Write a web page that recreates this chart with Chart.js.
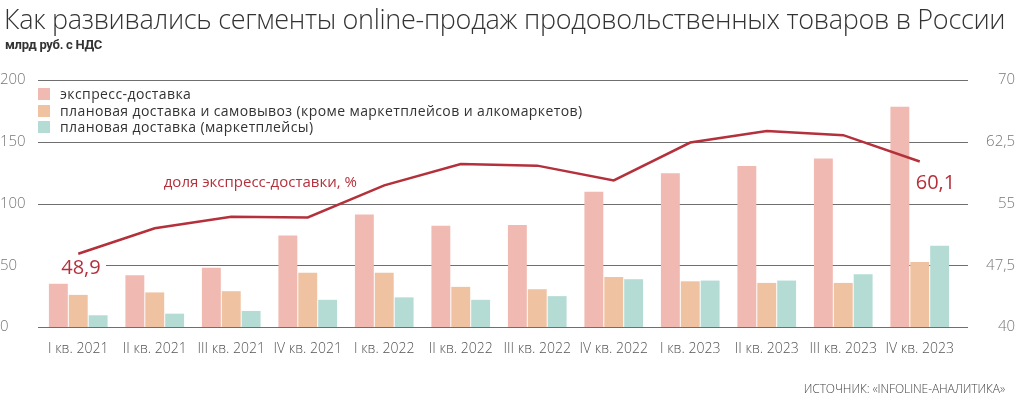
<!DOCTYPE html>
<html>
<head>
<meta charset="utf-8">
<script src="https://cdn.jsdelivr.net/npm/chart.js@4"></script>
<style>
  body { margin: 0; background: #fff; }
  #wrap { position: relative; width: 1015px; height: 397px; overflow: hidden; }
  #chart { position: absolute; left: 0; top: 0; }
  .title { position: absolute; left: 4px; top: 0px; font-family: "Open Sans"; font-weight: 300; font-size: 27px; color: #333; white-space: nowrap; letter-spacing: -0.3px; }
  .sub { position: absolute; left: 5px; top: 37px; font-family: Roboto; font-weight: 700; font-size: 13px; color: #333; letter-spacing: -0.3px; }
  .legend { position: absolute; left: 38px; top: 86px; font-family: "Open Sans"; font-size: 14px; color: #333; line-height: 16.5px; letter-spacing: 0.4px; }
  .legend div { white-space: nowrap; }
  .legend span { display: inline-block; width: 12px; height: 12px; margin-right: 10px; vertical-align: -1px; }
  .source { position: absolute; right: 10px; top: 380px; font-family: "Open Sans"; font-weight: 300; font-size: 12px; color: #444; letter-spacing: -0.1px; }
</style>
</head>
<body>
<div id="wrap">
  <canvas id="chart" width="1015" height="397"></canvas>
  <div class="title">Как развивались сегменты online-продаж продовольственных товаров в России</div>
  <div class="sub">млрд руб. с НДС</div>
  <div class="legend" id="legend"></div>
  <div class="source">ИСТОЧНИК: «INFOLINE-АНАЛИТИКА»</div>
</div>
<script>
// data
var quarters = ["I кв. 2021", "II кв. 2021", "III кв. 2021", "IV кв. 2021",
                "I кв. 2022", "II кв. 2022", "III кв. 2022", "IV кв. 2022",
                "I кв. 2023", "II кв. 2023", "III кв. 2023", "IV кв. 2023"];
var express = [35, 42, 48, 74, 91, 82, 82.5, 109.5, 124.5, 130.3, 136.5, 178.4];
var planned = [26, 28, 29, 44, 44, 32.5, 30.6, 40.5, 37, 35.7, 35.7, 52.7];
var marketplaces = [9.5, 10.8, 13, 22, 24, 22, 25, 38.7, 37.6, 37.6, 42.7, 65.7];
var expressShare = [48.9, 52.0, 53.4, 53.3, 57.2, 59.8, 59.6, 57.8, 62.4, 63.8, 63.3, 60.1];
var leftTicks = [0, 50, 100, 150, 200];
var rightTicks = [40, 47.5, 55, 62.5, 70];

var names = ["экспресс-доставка",
             "плановая доставка и самовывоз (кроме маркетплейсов и алкомаркетов)",
             "плановая доставка (маркетплейсы)"];
var colors = ["#f0b9b1", "#efc2a1", "#b4dcd5"];
var lineColor = "#b4303b";

var legendHtml = "";
for (var i = 0; i < names.length; i++) {
    legendHtml += '<div><span style="background:' + colors[i] + '"></span>' + names[i] + '</div>';
}
document.getElementById("legend").innerHTML = legendHtml;

function fmt(v) { return String(v).replace(".", ","); }

// horizontal grid lines, a bit wider than the plot area
var gridPlugin = {
    id: "grid",
    beforeDatasetsDraw: function (chart) {
        var ctx = chart.ctx, a = chart.chartArea, y = chart.scales.y;
        ctx.save();
        ctx.strokeStyle = "#6f6f6f";
        ctx.lineWidth = 1;
        leftTicks.forEach(function (t) {
            var py = Math.round(y.getPixelForValue(t)) + 0.5;
            var x0 = a.left - 2;
            if (t === 50) x0 = a.left + 66;
            ctx.beginPath();
            ctx.moveTo(x0, py);
            ctx.lineTo(a.right + 10, py);
            ctx.stroke();
        });
        ctx.restore();
    },
    afterDatasetsDraw: function (chart) {
        var ctx = chart.ctx;
        var pts = chart.getDatasetMeta(3).data;
        var first = pts[0], last = pts[pts.length - 1];
        ctx.save();
        ctx.fillStyle = lineColor;
        ctx.textBaseline = "middle";
        ctx.font = "500 20px 'Open Sans'";
        ctx.textAlign = "left";
        ctx.fillText(fmt(expressShare[0]), first.x - 17, first.y + 15);
        ctx.fillText(fmt(expressShare[expressShare.length - 1]), last.x - 4, last.y + 22);
        ctx.font = "15px 'Open Sans'";
        ctx.fillText("доля экспресс-доставки, %", chart.scales.x.getPixelForValue(1) + 9, 183);
        ctx.restore();
    }
};

var ctx = document.getElementById("chart").getContext("2d");
var chart = new Chart(ctx, {
    type: "bar",
    data: {
        labels: quarters,
        datasets: [
            { label: names[0], data: express, backgroundColor: colors[0], yAxisID: "y", order: 1 },
            { label: names[1], data: planned, backgroundColor: colors[1], yAxisID: "y", order: 1 },
            { label: names[2], data: marketplaces, backgroundColor: colors[2], yAxisID: "y", order: 1 },
            { type: "line", label: "доля экспресс-доставки, %", data: expressShare, borderColor: lineColor,
              borderWidth: 2.5, pointRadius: 0, tension: 0, yAxisID: "y2", order: 0 }
        ]
    },
    options: {
        responsive: false,
        animation: false,
        categoryPercentage: 0.78,
        barPercentage: 0.95,
        layout: { padding: { top: 80, bottom: 30, left: 0, right: 0 } },
        plugins: { legend: { display: false }, tooltip: { enabled: false } },
        scales: {
            x: {
                grid: { display: false, drawTicks: false },
                border: { display: false },
                ticks: { color: "#555", font: { family: "Open Sans", size: 14, weight: 300 }, padding: 14, maxRotation: 0, autoSkip: false },
                afterFit: function (s) { s.height = 40; }
            },
            y: {
                position: "left",
                min: 0, max: 200,
                afterBuildTicks: function (s) { s.ticks = leftTicks.map(function (v) { return { value: v }; }); },
                grid: { display: false, drawTicks: false },
                border: { display: false },
                ticks: { color: "#777", font: { family: "Open Sans", size: 15, weight: 300 }, padding: 9, crossAlign: "far" },
                afterFit: function (s) { s.width = 40; }
            },
            y2: {
                position: "right",
                min: 40, max: 70,
                afterBuildTicks: function (s) { s.ticks = rightTicks.map(function (v) { return { value: v }; }); },
                grid: { display: false, drawTicks: false },
                border: { display: false },
                ticks: { color: "#777", font: { family: "Open Sans", size: 15, weight: 300 }, padding: 16, crossAlign: "far",
                         callback: function (v) { return fmt(v); } },
                afterFit: function (s) { s.width = 57; }
            }
        }
    },
    plugins: [gridPlugin]
});
</script>
</body>
</html>
